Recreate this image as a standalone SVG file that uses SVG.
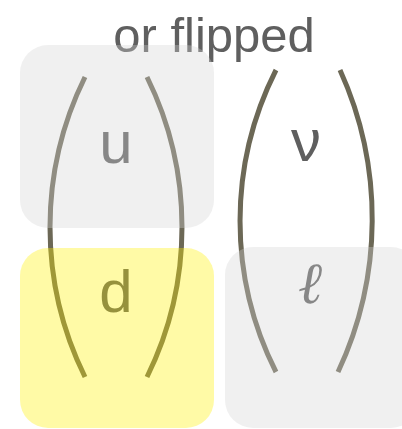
<svg xmlns="http://www.w3.org/2000/svg" width="402" height="429" viewBox="0 0 402 429">
  <style>
    .title { font-family: "Liberation Sans", Arial, sans-serif; font-size: 49px; fill: #5f5f5f; text-anchor: middle; }
    .sym { font-family: "Liberation Sans", Arial, sans-serif; font-size: 60px; fill: #5f5f5f; text-anchor: middle; }
    .script { font-family: "DejaVu Serif", "Liberation Serif", serif; font-style: italic; font-size: 58px; fill: #5f5f5f; text-anchor: middle; }
    .line { fill: none; stroke: #6c6856; stroke-width: 5; }
    .pane { fill: #d4d4d4; fill-opacity: 0.35; }
    .pane-hi { fill: #fff200; fill-opacity: 0.35; }
  </style>

  <rect width="402" height="429" fill="#ffffff"/>

  <g id="title">
    <text class="title" x="214" y="52">or flipped</text>
  </g>

  <!-- doublet brackets -->
  <g id="connectors">
    <path class="line" d="M85,77 A339,339 0 0 0 85,377"/>
    <path class="line" d="M147,77 A339,339 0 0 1 147,377"/>
    <path class="line" d="M276,70 A335,335 0 0 0 276,372"/>
    <path class="line" d="M340,70 A360,360 0 0 1 338,372"/>
  </g>

  <g id="node-u">
    <text class="sym" x="116" y="163">u</text>
    <rect class="pane" x="20" y="45" width="194" height="183" rx="28"/>
  </g>

  <g id="node-nu">
    <text class="sym" x="306" y="161">ν</text>
  </g>

  <g id="node-d">
    <text class="sym" x="116" y="312">d</text>
    <rect class="pane-hi" x="20" y="248" width="194" height="180" rx="28"/>
  </g>

  <g id="node-ell">
    <text class="script" x="310" y="303">ℓ</text>
    <rect class="pane" x="225" y="247" width="194" height="181" rx="28"/>
  </g>
</svg>
